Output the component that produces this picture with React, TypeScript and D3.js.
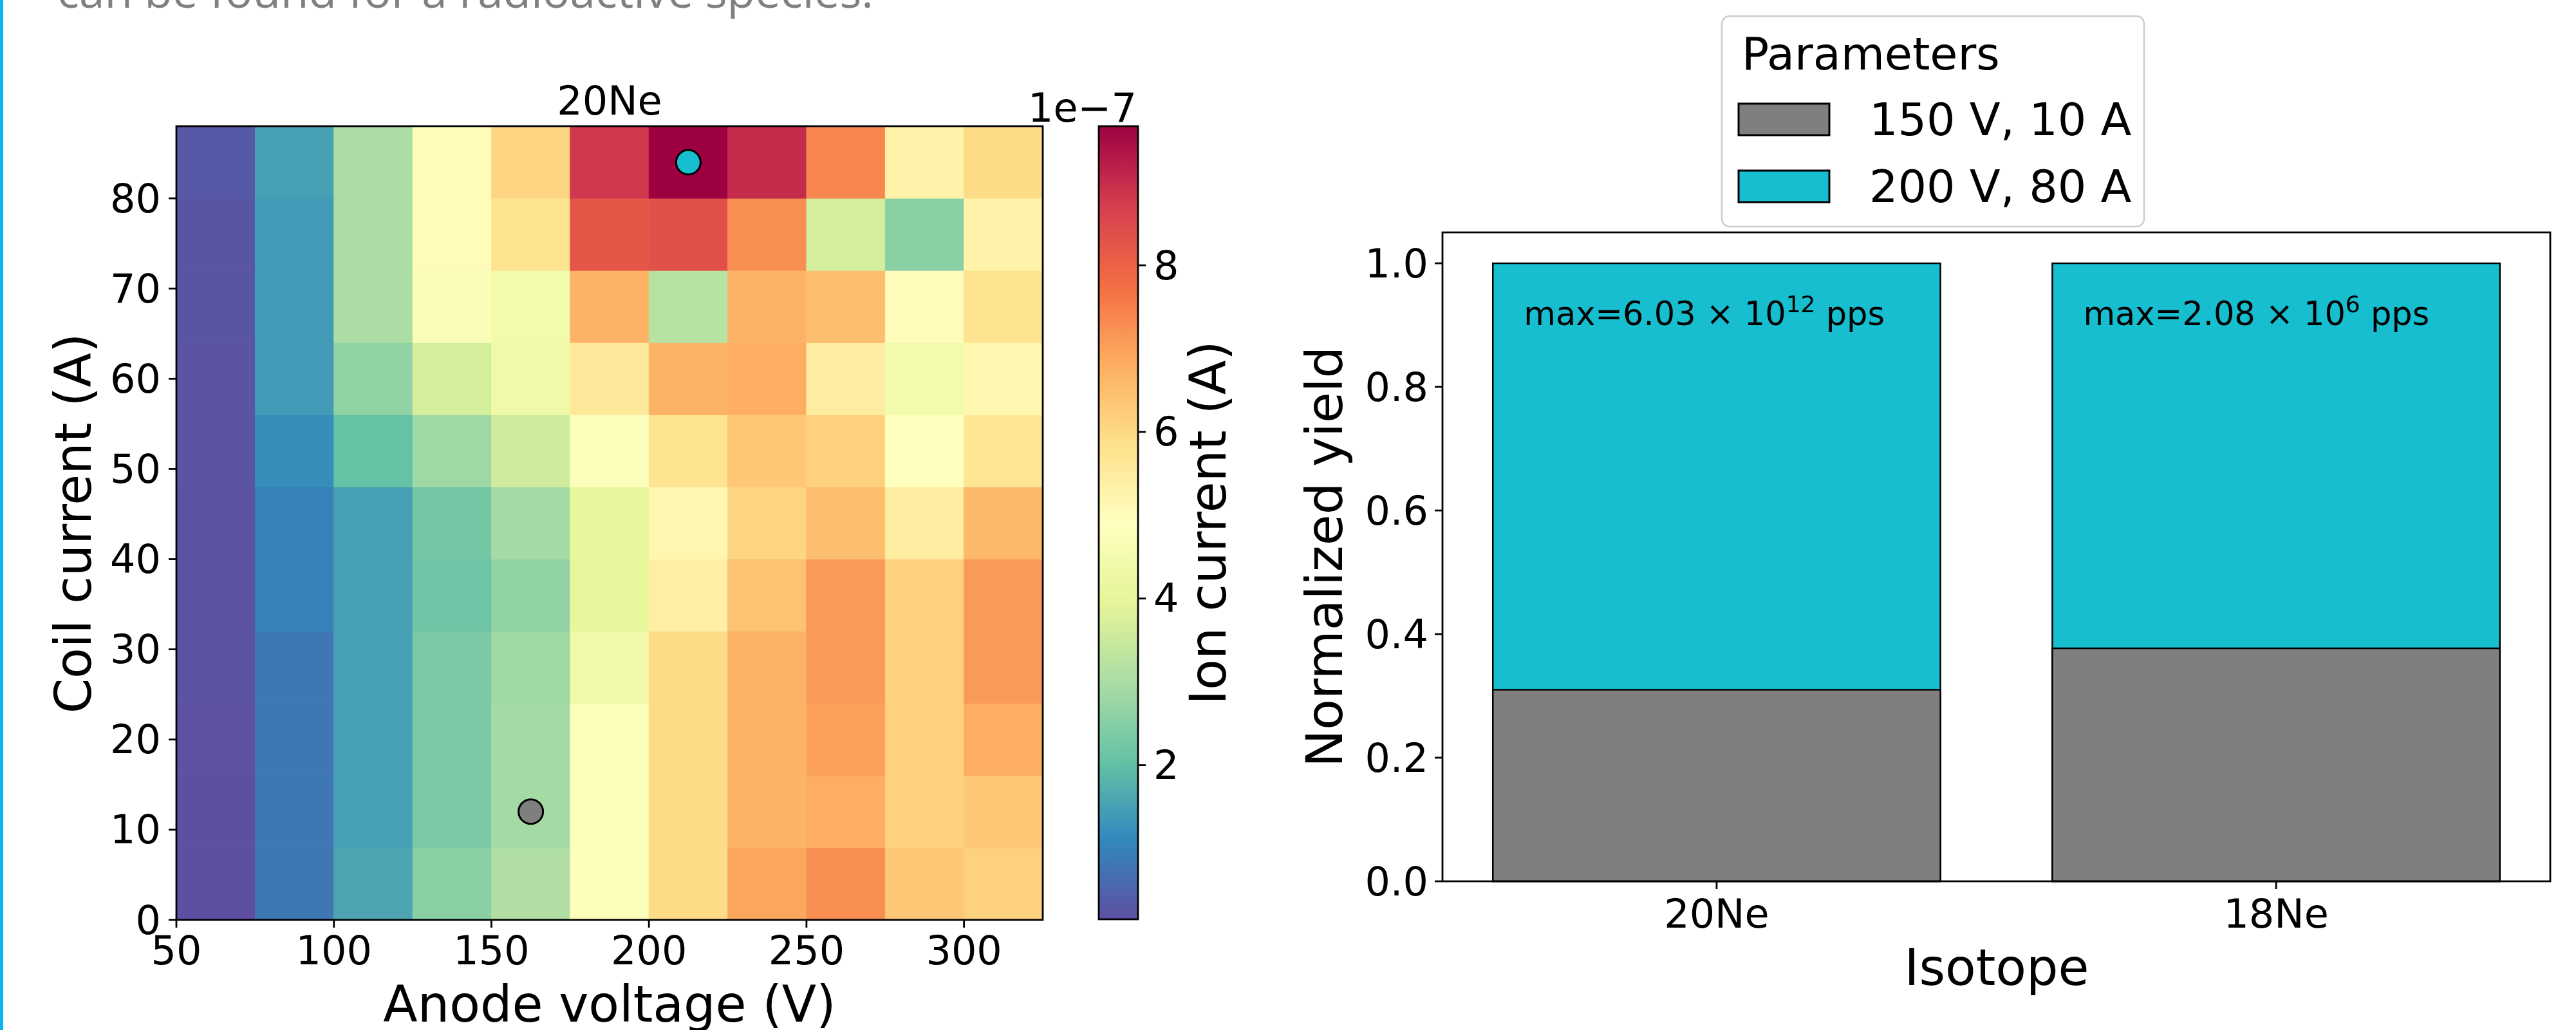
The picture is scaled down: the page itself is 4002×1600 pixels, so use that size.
import React from "react";
import * as d3 from "d3";

// heatmap cell edges
const VOLT_EDGES = [50, 75, 100, 125, 150, 175, 200, 225, 250, 275, 300, 325];
const COIL_EDGES = [0, 8, 16, 24, 32, 40, 48, 56, 64, 72, 80, 88];

// ion current in units of 1e-7 A, one row per coil-current bin (bottom row first)
const ION_CURRENT = [
  [0.15, 0.82, 1.58, 2.53, 3.10, 4.81, 5.96, 6.91, 7.29, 6.34, 6.15],
  [0.17, 0.82, 1.48, 2.34, 2.91, 4.81, 5.96, 6.72, 6.81, 6.15, 6.34],
  [0.18, 0.82, 1.48, 2.34, 2.91, 4.81, 5.96, 6.72, 7.00, 6.15, 6.81],
  [0.2, 0.82, 1.48, 2.34, 2.82, 4.34, 5.96, 6.72, 7.10, 6.15, 7.10],
  [0.2, 1.01, 1.48, 2.15, 2.63, 4.05, 5.39, 6.43, 7.10, 6.15, 7.10],
  [0.2, 1.01, 1.48, 2.24, 2.91, 4.05, 5.20, 6.05, 6.53, 5.48, 6.62],
  [0.22, 1.20, 2.05, 2.82, 3.58, 4.81, 5.77, 6.34, 6.15, 4.91, 5.67],
  [0.22, 1.39, 2.63, 3.67, 4.34, 5.58, 6.72, 6.81, 5.48, 4.43, 5.20],
  [0.25, 1.39, 3.01, 4.72, 4.43, 6.72, 3.20, 6.72, 6.53, 5.01, 5.77],
  [0.25, 1.39, 3.01, 5.01, 5.77, 8.24, 8.34, 7.29, 3.67, 2.53, 5.29],
  [0.32, 1.48, 3.01, 5.01, 6.05, 8.81, 9.67, 9.00, 7.39, 5.29, 5.96],
];

// chosen operating points
const PARAMS = ["150 V, 10 A", "200 V, 80 A"];
const PARAM_VOLT = [162.5, 212.5];
const PARAM_COIL = [12, 84];

// normalized yields per isotope
const ISOTOPES = ["20Ne", "18Ne"];
const YIELD_LOW = [0.31, 0.377];
const YIELD_HIGH = [1.0, 1.0];
const MAX_MANTISSA = ["6.03", "2.08"];
const MAX_EXPONENT = ["12", "6"];

const X_TICKS = [50, 100, 150, 200, 250, 300];
const Y_TICKS = [0, 10, 20, 30, 40, 50, 60, 70, 80];
const CBAR_TICKS = [2, 4, 6, 8];
const YIELD_TICKS = [0, 0.2, 0.4, 0.6, 0.8, 1.0];

const SPECTRAL_R = [
  "#5e4fa2", "#3288bd", "#66c2a5", "#abdda4", "#e6f598", "#ffffbf",
  "#fee08b", "#fdae61", "#f46d43", "#d53e4f", "#9e0142",
];
const PARAM_COLORS = ["#7f7f7f", "#17becf"];
const FONT = "DejaVu Sans";

export default function App() {
  const flat = ION_CURRENT.flat();
  const vmin = d3.min(flat) as number;
  const vmax = d3.max(flat) as number;
  const color = d3
    .scaleLinear<string>()
    .domain(SPECTRAL_R.map((_, i) => vmin + (i / 10) * (vmax - vmin)))
    .range(SPECTRAL_R)
    .interpolate(d3.interpolateRgb);

  // left panel
  const x = d3.scaleLinear().domain(d3.extent(VOLT_EDGES) as [number, number]).range([274, 1620]);
  const y = d3.scaleLinear().domain(d3.extent(COIL_EDGES) as [number, number]).range([1429, 196]);
  const cb = d3.scaleLinear().domain([vmin, vmax]).range([1428, 196]);
  const cbX0 = 1707;
  const cbX1 = 1768;

  // right panel
  const bx = d3.scaleBand().domain(ISOTOPES).range([2241, 3962]).paddingInner(0.2).paddingOuter(0.09);
  const by = d3.scaleLinear().domain([0, 1.05]).range([1369, 361]);
  const fmt = d3.format(".1f");

  const tick = 12;
  const lw = 2.8;

  return (
    <svg
      width={4002}
      height={1600}
      style={{ position: "absolute", left: 0, top: 0, background: "#fff" }}
      fontFamily={FONT}
    >
      <rect x={0} y={0} width={4002} height={1600} fill="#fff" />
      <rect x={0} y={0} width={5} height={1600} fill="#0ab4f0" />
      <text
        x={89}
        y={12}
        fontFamily="Open Sans"
        fontSize={70}
        fill="#808080"
        textLength={1268}
        lengthAdjust="spacingAndGlyphs"
      >
        can be found for a radioactive species.
      </text>

      {/* heatmap */}
      {ION_CURRENT.map((row, i) =>
        row.map((v, j) => {
          const fill = color(v);
          return (
            <rect
              key={`${i}-${j}`}
              x={x(VOLT_EDGES[j])}
              y={y(COIL_EDGES[i + 1])}
              width={x(VOLT_EDGES[j + 1]) - x(VOLT_EDGES[j])}
              height={y(COIL_EDGES[i]) - y(COIL_EDGES[i + 1])}
              fill={fill}
              stroke={fill}
              strokeWidth={0.8}
            />
          );
        })
      )}
      {PARAMS.map((p, i) => (
        <circle
          key={p}
          cx={x(PARAM_VOLT[i])}
          cy={y(PARAM_COIL[i])}
          r={19}
          fill={PARAM_COLORS[i]}
          stroke="#000"
          strokeWidth={3}
        />
      ))}
      <rect x={274} y={196} width={1620 - 274} height={1429 - 196} fill="none" stroke="#000" strokeWidth={lw} />

      {X_TICKS.map((t) => (
        <g key={t}>
          <line x1={x(t)} x2={x(t)} y1={1429} y2={1429 + tick} stroke="#000" strokeWidth={lw} />
          <text x={x(t)} y={1498} fontSize={62} textAnchor="middle">
            {t}
          </text>
        </g>
      ))}
      {Y_TICKS.map((t) => (
        <g key={t}>
          <line x1={274 - tick} x2={274} y1={y(t)} y2={y(t)} stroke="#000" strokeWidth={lw} />
          <text x={250} y={y(t)} fontSize={62} textAnchor="end" dominantBaseline="central">
            {t}
          </text>
        </g>
      ))}
      <text x={947} y={178} fontSize={62} textAnchor="middle">
        20Ne
      </text>
      <text x={947} y={1587} fontSize={78} textAnchor="middle">
        Anode voltage (V)
      </text>
      <text transform={`translate(141,813) rotate(-90)`} fontSize={78} textAnchor="middle">
        Coil current (A)
      </text>

      {/* colorbar */}
      <defs>
        <linearGradient id="cbar" x1="0" y1="1" x2="0" y2="0">
          {SPECTRAL_R.map((c, i) => (
            <stop key={c} offset={`${i * 10}%`} stopColor={c} />
          ))}
        </linearGradient>
      </defs>
      <rect
        x={cbX0}
        y={cb(vmax)}
        width={cbX1 - cbX0}
        height={cb(vmin) - cb(vmax)}
        fill="url(#cbar)"
        stroke="#000"
        strokeWidth={lw}
      />
      {CBAR_TICKS.map((t) => (
        <g key={t}>
          <line x1={cbX1} x2={cbX1 + tick} y1={cb(t)} y2={cb(t)} stroke="#000" strokeWidth={lw} />
          <text x={1792} y={cb(t)} fontSize={62} dominantBaseline="central">
            {t}
          </text>
        </g>
      ))}
      <text x={1766} y={189} fontSize={62} textAnchor="end">
        1e−7
      </text>
      <text transform={`translate(1904,812) rotate(-90)`} fontSize={78} textAnchor="middle">
        Ion current (A)
      </text>

      {/* stacked yield bars */}
      {ISOTOPES.map((iso, i) => (
        <g key={iso}>
          <rect
            x={bx(iso)}
            y={by(YIELD_HIGH[i])}
            width={bx.bandwidth()}
            height={by(0) - by(YIELD_HIGH[i])}
            fill={PARAM_COLORS[1]}
            stroke="#000"
            strokeWidth={2.5}
          />
          <rect
            x={bx(iso)}
            y={by(YIELD_LOW[i])}
            width={bx.bandwidth()}
            height={by(0) - by(YIELD_LOW[i])}
            fill={PARAM_COLORS[0]}
            stroke="#000"
            strokeWidth={2.5}
          />
          <text x={(bx(iso) as number) + 48} y={by(0.9)} fontSize={51}>
            {`max=${MAX_MANTISSA[i]} × 10`}
            <tspan fontSize={36} dy={-20}>
              {MAX_EXPONENT[i]}
            </tspan>
            <tspan dy={20}>{" pps"}</tspan>
          </text>
        </g>
      ))}
      <rect x={2241} y={361} width={3962 - 2241} height={1369 - 361} fill="none" stroke="#000" strokeWidth={lw} />
      {YIELD_TICKS.map((t) => (
        <g key={t}>
          <line x1={2241 - tick} x2={2241} y1={by(t)} y2={by(t)} stroke="#000" strokeWidth={lw} />
          <text x={2219} y={by(t)} fontSize={62} textAnchor="end" dominantBaseline="central">
            {fmt(t)}
          </text>
        </g>
      ))}
      {ISOTOPES.map((iso) => {
        const cx = (bx(iso) as number) + bx.bandwidth() / 2;
        return (
          <g key={iso}>
            <line x1={cx} x2={cx} y1={1369} y2={1369 + tick} stroke="#000" strokeWidth={lw} />
            <text x={cx} y={1441} fontSize={62} textAnchor="middle">
              {iso}
            </text>
          </g>
        );
      })}
      <text x={3102} y={1530} fontSize={78} textAnchor="middle">
        Isotope
      </text>
      <text transform={`translate(2085,865) rotate(-90)`} fontSize={78} textAnchor="middle">
        Normalized yield
      </text>

      {/* legend */}
      <rect x={2675} y={25} width={656} height={327} rx={12} fill="#fff" fillOpacity={0.8} stroke="#cccccc" strokeWidth={2.5} />
      <text x={2706} y={108} fontSize={70}>
        Parameters
      </text>
      {PARAMS.map((p, i) => (
        <g key={p}>
          <rect x={2701} y={161 + i * 104} width={141} height={49} fill={PARAM_COLORS[i]} stroke="#000" strokeWidth={3} />
          <text x={2904} y={210 + i * 104} fontSize={70}>
            {p}
          </text>
        </g>
      ))}
    </svg>
  );
}
